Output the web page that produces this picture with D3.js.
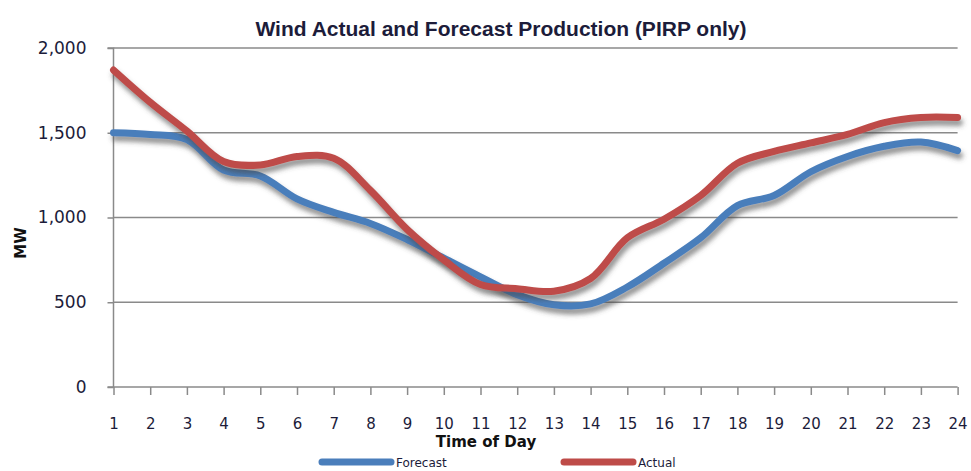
<!DOCTYPE html>
<html><head><meta charset="utf-8">
<script src="https://cdn.jsdelivr.net/npm/d3@7"></script>
<style>
html,body{margin:0;padding:0;background:#fff;}
svg{display:block;}
</style></head>
<body>
<svg id="chart" width="971" height="471"></svg>
<script>
const hours = [1,2,3,4,5,6,7,8,9,10,11,12,13,14,15,16,17,18,19,20,21,22,23,24];
const forecast = [1500,1490,1460,1280,1245,1110,1030,965,870,760,650,545,485,490,590,730,880,1070,1130,1270,1360,1420,1445,1395];
const actual = [1870,1680,1510,1330,1310,1360,1350,1160,930,750,605,580,565,640,880,990,1130,1320,1390,1440,1490,1560,1590,1590];
const yTicks = [0,500,1000,1500,2000];
const seriesNames = ["Forecast","Actual"];
const colors = ["#4a7ebb","#be4b48"];

(function(){
const svg = d3.select("#chart");
const pLeft = 113.5, pRight = 957.6, pTop = 48, pBottom = 387;
const x = d3.scaleLinear().domain([1,24]).range([pLeft,pRight]);
const y = d3.scaleLinear().domain([0,2000]).range([pBottom,pTop]);
const textColor = "#1c1c3a";
const gridColor = "#8a8a8a";

const defs = svg.append("defs");
const f = defs.append("filter").attr("id","shadow").attr("x","-10%").attr("y","-20%").attr("width","130%").attr("height","150%");
f.append("feDropShadow").attr("dx",2).attr("dy",5).attr("stdDeviation",2.4)
  .attr("flood-color","#4a4a4a").attr("flood-opacity",0.6);

// title
svg.append("text").attr("x",501).attr("y",36).attr("text-anchor","middle")
  .attr("font-family","Liberation Sans, Arial, sans-serif").attr("font-weight","bold")
  .attr("font-size",21).attr("fill",textColor)
  .text("Wind Actual and Forecast Production (PIRP only)");

// gridlines
svg.append("g").selectAll("line").data(yTicks.filter(d=>d>0)).join("line")
  .attr("x1",pLeft).attr("x2",pRight).attr("y1",d=>y(d)).attr("y2",d=>y(d))
  .attr("stroke",gridColor).attr("stroke-width",1.5);

// y axis
const yAxis = d3.axisLeft(y).tickValues(yTicks).tickSize(6).tickPadding(21)
  .tickFormat(d3.format(","));
const gy = svg.append("g").attr("transform",`translate(${pLeft},0)`).call(yAxis);
gy.select(".domain").attr("stroke",gridColor).attr("stroke-width",1.5).attr("d",`M-6,${pTop}H0V${pBottom}H-6`);
gy.selectAll(".tick line").attr("stroke",gridColor).attr("stroke-width",1.5);
gy.selectAll(".tick text").attr("fill",textColor).attr("font-family","DejaVu Sans, sans-serif").attr("font-size",17);

// x axis
const xAxis = d3.axisBottom(x).tickValues(hours).tickSize(8).tickPadding(23).tickFormat(d3.format("d"));
const gx = svg.append("g").attr("transform",`translate(0,${pBottom})`).call(xAxis);
gx.select(".domain").attr("stroke",gridColor).attr("stroke-width",1.5).attr("d",`M${pLeft},0H${pRight}`);
gx.selectAll(".tick line").attr("stroke",gridColor).attr("stroke-width",1.5);
gx.selectAll(".tick text").attr("fill",textColor).attr("font-family","DejaVu Sans, sans-serif").attr("font-size",15);

// axis titles
svg.append("text").attr("transform","translate(26,243) rotate(-90)").attr("text-anchor","middle")
  .attr("font-family","DejaVu Sans, sans-serif").attr("font-weight","bold").attr("font-size",15)
  .attr("fill","#111").text("MW");
svg.append("text").attr("x",486).attr("y",447).attr("text-anchor","middle")
  .attr("font-family","DejaVu Sans, sans-serif").attr("font-weight","bold").attr("font-size",15)
  .attr("fill","#111").text("Time of Day");

// lines
const line = d3.line().x((d,i)=>x(hours[i])).y(d=>y(d)).curve(d3.curveCatmullRom.alpha(0.5));
[forecast, actual].forEach((s,k)=>{
  svg.append("path").attr("d",line(s)).attr("fill","none").attr("stroke",colors[k])
    .attr("stroke-width",7).attr("stroke-linecap","round").attr("stroke-linejoin","round")
    .attr("filter","url(#shadow)");
});

// legend
const legX = [322,564];
seriesNames.forEach((n,k)=>{
  svg.append("line").attr("x1",legX[k]).attr("x2",legX[k]+69).attr("y1",462).attr("y2",462)
    .attr("stroke",colors[k]).attr("stroke-width",7).attr("stroke-linecap","round");
  svg.append("text").attr("x",legX[k]+74).attr("y",467).attr("font-family","DejaVu Sans, sans-serif")
    .attr("font-size",12).attr("fill",textColor).text(n);
});
})();
</script>
</body></html>
